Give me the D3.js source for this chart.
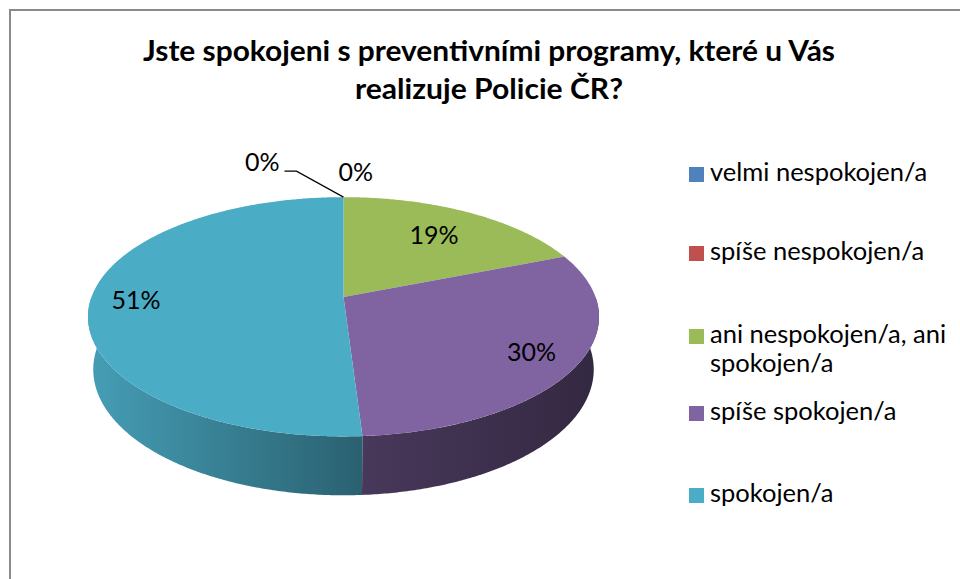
<!DOCTYPE html>
<html>
<head>
<meta charset="utf-8">
<script src="https://cdn.jsdelivr.net/npm/d3@7"></script>
<style>
  body { margin: 0; background: #fff; }
  svg { display: block; }
  text { font-family: Lato, "Open Sans", sans-serif; fill: #000; }
</style>
</head>
<body>
<svg id="chart" width="960" height="579"></svg>
<script>
// data
var categories = ["velmi nespokojen/a", "spíše nespokojen/a", "ani nespokojen/a, ani spokojen/a", "spíše spokojen/a", "spokojen/a"];
var values = [0, 0, 19, 30, 51];
var colors = ["#4F81BD", "#C0504D", "#9BBB59", "#8064A2", "#4BACC6"];
var titleLines = ["Jste spokojeni s preventivními programy, které u Vás", "realizuje Policie ČR?"];

var svg = d3.select("#chart");
var W = 960, H = 579;
var defs = svg.append("defs");

// frame
svg.append("rect")
    .attr("x", 10).attr("y", 10)
    .attr("width", W + 20).attr("height", H + 20)
    .attr("fill", "#fff")
    .attr("stroke", "#8a8a8a")
    .attr("stroke-width", 2);

// title (stretched a bit, Calibri is not here)
var titleW = [692, 268];
svg.append("g").selectAll("text")
    .data(titleLines).enter()
    .append("text")
    .attr("x", 489)
    .attr("y", function(d, i) { return 61 + i * 38; })
    .attr("text-anchor", "middle")
    .attr("textLength", function(d, i) { return titleW[i]; })
    .attr("lengthAdjust", "spacingAndGlyphs")
    .style("font-size", "28px")
    .style("font-weight", "bold")
    .text(function(d) { return d; });

// 3d pie projection
var cx = 343.5, cy = 297, R = 252, depth = 60;
var tilt = 27.5 * Math.PI / 180;
var cosT = Math.cos(tilt), sinT = Math.sin(tilt);
var F = 6.05 * R * cosT;

function project(a, r, y) {
    var X = r * Math.sin(a), Z = r * Math.cos(a);
    var v = y * cosT + Z * sinT;
    var w = Z * cosT - y * sinT;
    var s = F / (F + w);
    return [cx + X * s, cy - v * s];
}

var pie = d3.pie().sort(null).value(function(d) { return d; });
var arcs = pie(values);
var line = d3.line();
var deg = Math.PI / 180;

// side shade: lighter on the left, darker towards the right
var shade = d3.scaleLinear()
    .domain([90 * deg, 180 * deg, 270 * deg])
    .range([0.4, 0.57, 0.92]);

function shaded(c, f) {
    c = d3.rgb(c);
    return d3.rgb(c.r * f, c.g * f, c.b * f).toString();
}

var sides = svg.append("g");
arcs.forEach(function(d, i) {
    var a0 = Math.max(d.startAngle, 90 * deg);
    var a1 = Math.min(d.endAngle, 270 * deg);
    if (a1 <= a0) return;
    var steps = d3.range(a0, a1, 0.5 * deg).concat([a1]);
    var topPts = steps.map(function(a) { return project(a, R, 0); });
    var botPts = steps.map(function(a) { return project(a, R, -depth); }).reverse();
    var xs = topPts.map(function(p) { return p[0]; });
    var xl = d3.min(xs), xr = d3.max(xs);
    // angle at the left end / right end of this piece
    var aLeft = a1, aRight = a0;
    var gid = "side" + i;
    var g = defs.append("linearGradient")
        .attr("id", gid)
        .attr("gradientUnits", "userSpaceOnUse")
        .attr("x1", xl).attr("y1", 0).attr("x2", xr).attr("y2", 0);
    g.append("stop").attr("offset", "0%").attr("stop-color", shaded(colors[i], shade(aLeft)));
    g.append("stop").attr("offset", "100%").attr("stop-color", shaded(colors[i], shade(aRight)));
    sides.append("path")
        .attr("d", line(topPts.concat(botPts)) + "Z")
        .attr("fill", "url(#" + gid + ")");
});

var tops = svg.append("g");
arcs.forEach(function(d, i) {
    if (d.endAngle - d.startAngle <= 0) return;
    var pts = [project(0, 0, 0)];
    var steps = d3.range(d.startAngle, d.endAngle, 0.5 * deg).concat([d.endAngle]);
    steps.forEach(function(a) { pts.push(project(a, R, 0)); });
    tops.append("path")
        .attr("d", line(pts) + "Z")
        .attr("fill", colors[i]);
});

// data labels
var fmt = function(v) { return Math.round(v) + "%"; };
var total = d3.sum(values);
var lab = svg.append("g").style("font-size", "25px");
var back = project(0, R, 0);
var zeroCount = 0;
arcs.forEach(function(d, i) {
    var txt = fmt(d.value / total * 100);
    if (d.value === 0) {
        if (zeroCount === 0) {
            lab.append("path")
                .attr("d", line([back, [back[0] - 47, back[1] - 26], [back[0] - 59, back[1] - 26]]))
                .attr("fill", "none")
                .attr("stroke", "#000")
                .attr("stroke-width", 1.2);
            lab.append("text")
                .attr("x", back[0] - 64).attr("y", back[1] - 26)
                .attr("text-anchor", "end")
                .text(txt);
        } else {
            lab.append("text")
                .attr("x", back[0] - 5).attr("y", back[1] - 16)
                .text(txt);
        }
        zeroCount++;
        return;
    }
    var mid = (d.startAngle + d.endAngle) / 2;
    var rf = d.value < 25 ? 0.7 : 0.82;
    var p = project(mid, R * rf, 0);
    lab.append("text")
        .attr("x", p[0]).attr("y", p[1])
        .attr("dy", "0.35em")
        .attr("text-anchor", "middle")
        .text(txt);
});

// legend
var legend = svg.append("g").attr("transform", "translate(689,0)");
var rowY = [181, 260, 343, 420, 502];
var items = legend.selectAll("g")
    .data(categories).enter()
    .append("g")
    .attr("transform", function(d, i) { return "translate(0," + rowY[i] + ")"; });

items.append("rect")
    .attr("x", 0).attr("y", -14)
    .attr("width", 15).attr("height", 15)
    .attr("fill", function(d, i) { return colors[i]; });

items.append("text")
    .attr("x", 21).attr("y", 0)
    .style("font-size", "25.5px")
    .each(function(d) {
        var t = d3.select(this);
        var words = d.split(" "), lineTxt = [];
        var ts = t.append("tspan").attr("x", 21).attr("dy", 0);
        words.forEach(function(w) {
            lineTxt.push(w);
            ts.text(lineTxt.join(" "));
            if (ts.node().getComputedTextLength() > 245 && lineTxt.length > 1) {
                lineTxt.pop();
                ts.text(lineTxt.join(" "));
                lineTxt = [w];
                ts = t.append("tspan").attr("x", 21).attr("dy", 29).text(w);
            }
        });
    });
</script>
</body>
</html>
